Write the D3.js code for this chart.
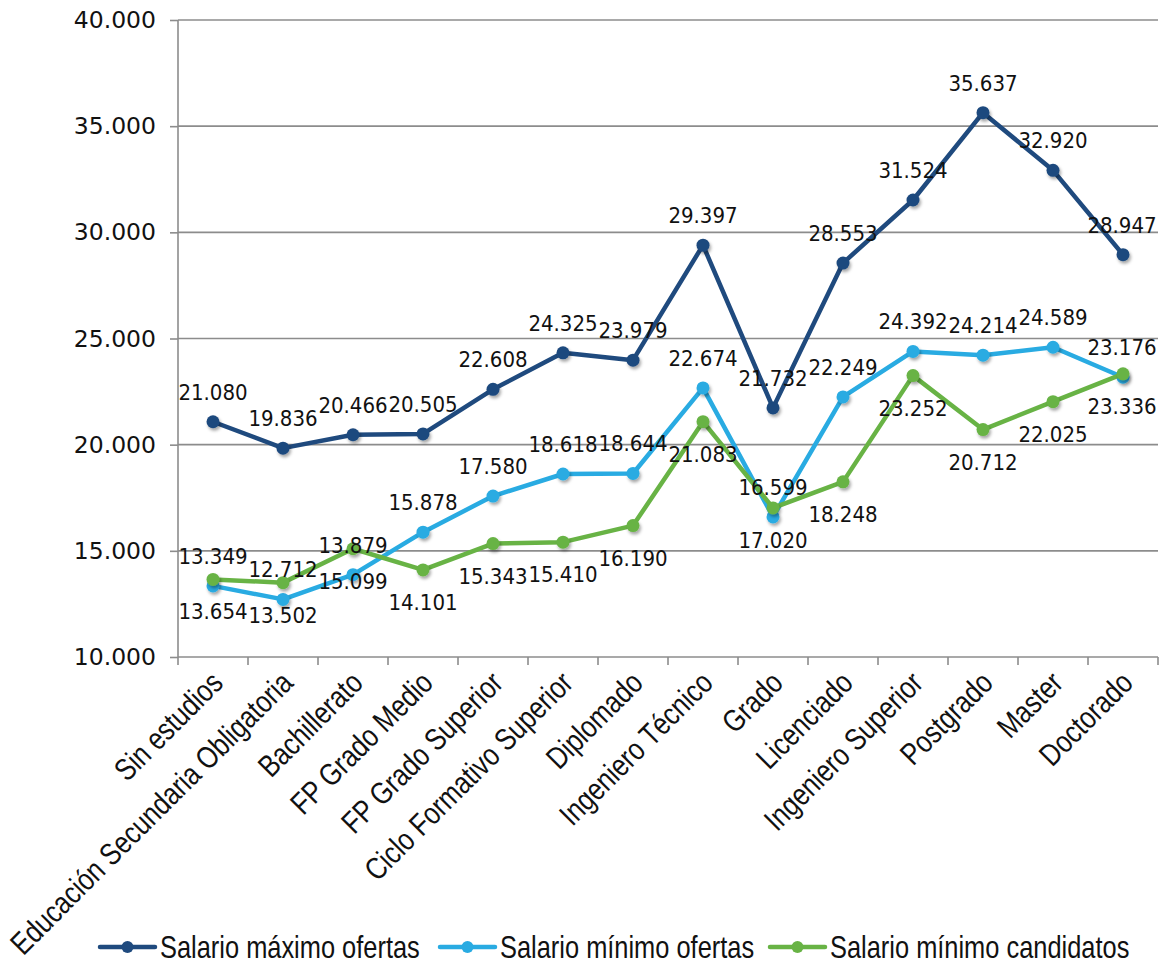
<!DOCTYPE html>
<html><head><meta charset="utf-8">
<script src="https://cdn.jsdelivr.net/npm/d3@7"></script>
<style>body{margin:0;background:#fff}svg{display:block}</style>
</head><body>
<script>
const categories = ["Sin estudios","Educación Secundaria Obligatoria","Bachillerato","FP Grado Medio","FP Grado Superior","Ciclo Formativo Superior","Diplomado","Ingeniero Técnico","Grado","Licenciado","Ingeniero Superior","Postgrado","Master","Doctorado"];
const seriesNames = ["Salario máximo ofertas","Salario mínimo ofertas","Salario mínimo candidatos"];
const maxOfertas = [21080,19836,20466,20505,22608,24325,23979,29397,21732,28553,31524,35637,32920,28947];
const minOfertas = [13349,12712,13879,15878,17580,18618,18644,22674,16599,22249,24392,24214,24589,23176];
const minCandidatos = [13654,13502,15099,14101,15343,15410,16190,21083,17020,18248,23252,20712,22025,23336];
const yTicks = [10000,15000,20000,25000,30000,35000,40000];

const W=1164,H=963;
const m={l:178,r:1158,t:20,b:657};
const colors=["#1f4a7e","#29abe2","#68b345"];
const labelPos=["above","above","below"];
const series=[maxOfertas,minOfertas,minCandidatos];
const NARROW=0.82;

const svg=d3.select("body").append("svg").attr("width",W).attr("height",H);
const defs=svg.append("defs");
const f=defs.append("filter").attr("id","sh").attr("x","-50%").attr("y","-50%").attr("width","200%").attr("height","200%");
f.append("feDropShadow").attr("dx",1.5).attr("dy",2.5).attr("stdDeviation",1.8).attr("flood-color","#000").attr("flood-opacity",0.35);

const x=d3.scaleBand().domain(categories).range([m.l,m.r]).padding(0);
const y=d3.scaleLinear().domain([10000,40000]).range([m.b,m.t]);
const fmtNum=v=>{const s=String(v);return s.slice(0,s.length-3)+"."+s.slice(-3);};

// gridlines
svg.append("g").selectAll("line").data(yTicks.slice(1)).join("line")
 .attr("x1",m.l).attr("x2",m.r).attr("y1",d=>y(d)).attr("y2",d=>y(d))
 .attr("stroke","#8c8c8c").attr("stroke-width",1.6);

// y axis
const ya=svg.append("g").attr("transform",`translate(${m.l},0)`)
 .call(d3.axisLeft(y).tickValues(yTicks).tickSize(8).tickPadding(14).tickFormat(fmtNum));
ya.select(".domain").attr("stroke","#8c8c8c").attr("stroke-width",1.6).attr("d",`M0,${m.b}V${m.t}`);
ya.selectAll(".tick line").attr("stroke","#8c8c8c").attr("stroke-width",1.6);
ya.selectAll(".tick text").attr("font-family","DejaVu Sans").attr("font-size",23.5).attr("fill","#111");

// x axis
const xa=svg.append("g").attr("transform",`translate(0,${m.b})`);
xa.append("line").attr("x1",m.l).attr("x2",m.r).attr("stroke","#8c8c8c").attr("stroke-width",1.6);
const bounds=categories.map(c=>x(c)).concat([m.r]);
xa.selectAll(".xt").data(bounds).join("line").attr("class","xt")
 .attr("x1",d=>d).attr("x2",d=>d).attr("y1",0).attr("y2",8).attr("stroke","#8c8c8c").attr("stroke-width",1.6);
xa.selectAll(".xl").data(categories).join("text").attr("class","xl")
 .attr("transform",d=>`translate(${x(d)+x.bandwidth()/2+6},${22}) rotate(-45) scale(${NARROW},1)`)
 .attr("text-anchor","end").attr("dominant-baseline","middle")
 .attr("font-family","Liberation Sans, Arial, sans-serif").attr("font-size",31).attr("fill","#111")
 .text(d=>d);

// lines
const line=d3.line().x((d,i)=>x(categories[i])+x.bandwidth()/2).y(d=>y(d));
series.forEach((s,k)=>{
  const g=svg.append("g");
  g.append("path").datum(s).attr("d",line).attr("fill","none").attr("stroke",colors[k]).attr("stroke-width",4.5).attr("stroke-linejoin","round");
  g.selectAll("circle").data(s).join("circle")
   .attr("cx",(d,i)=>x(categories[i])+x.bandwidth()/2).attr("cy",d=>y(d)).attr("r",6.5)
   .attr("fill",colors[k]).attr("filter","url(#sh)");
});
// labels
series.forEach((s,k)=>{
  svg.append("g").selectAll("text").data(s).join("text")
   .attr("x",(d,i)=>Math.min(x(categories[i])+x.bandwidth()/2, W-42))
   .attr("y",d=>labelPos[k]==="above"? y(d)-22 : y(d)+40)
   .attr("text-anchor","middle")
   .attr("font-family","DejaVu Sans Condensed").attr("font-size",22).attr("fill","#111")
   .text(fmtNum);
});

// legend
const legX=[100,440,770];
const lg=svg.append("g");
seriesNames.forEach((n,k)=>{
  const g=lg.append("g").attr("transform",`translate(${legX[k]},947)`);
  g.append("line").attr("x1",0).attr("x2",55).attr("stroke",colors[k]).attr("stroke-width",4.5).attr("stroke-linecap","round");
  g.append("circle").attr("cx",27.5).attr("r",6).attr("fill",colors[k]);
  g.append("text").attr("transform",`translate(60,0) scale(${NARROW},1)`).attr("dominant-baseline","central")
   .attr("font-family","Liberation Sans, Arial, sans-serif").attr("font-size",31).attr("fill","#111").text(n);
});
</script>
</body></html>
